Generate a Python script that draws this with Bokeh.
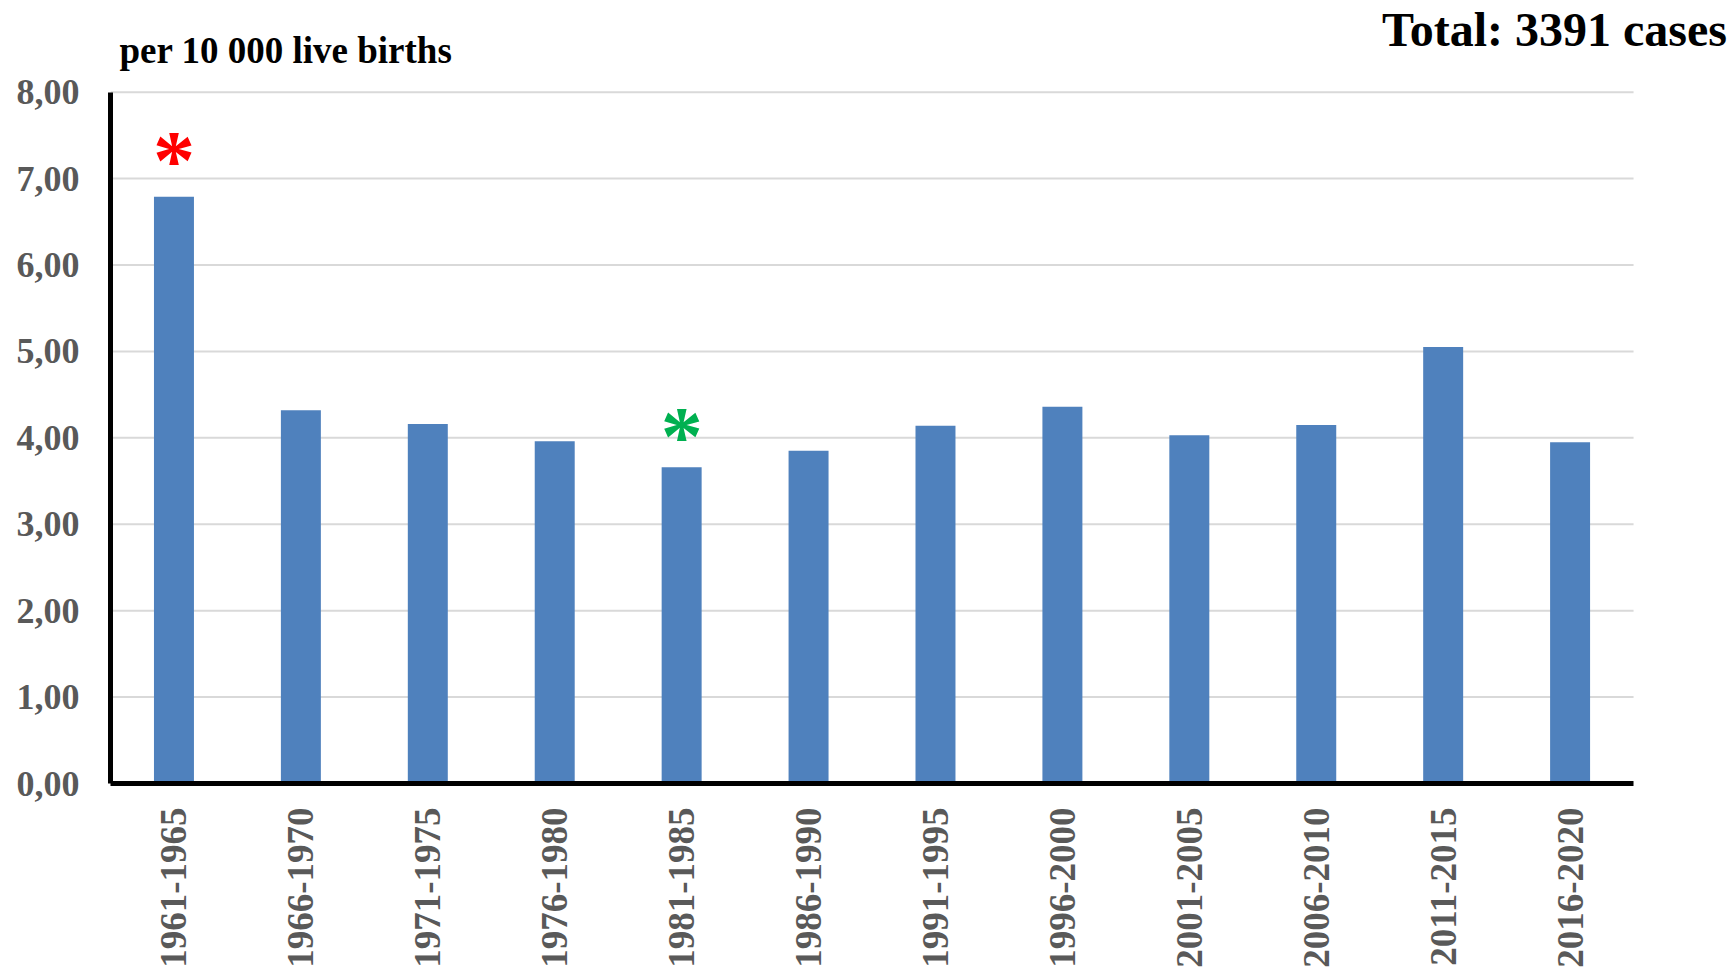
from bokeh.plotting import figure
from bokeh.models import Range1d, FixedTicker
from bokeh.core.properties import value
from bokeh.embed import file_html
from bokeh.resources import INLINE
import math

# Rate per 10 000 live births, by five-year period
periods = ["1961-1965", "1966-1970", "1971-1975", "1976-1980", "1981-1985", "1986-1990",
           "1991-1995", "1996-2000", "2001-2005", "2006-2010", "2011-2015", "2016-2020"]
rates = [6.79, 4.32, 4.16, 3.96, 3.66, 3.85, 4.14, 4.36, 4.03, 4.15, 5.05, 3.95]

y_ticks = [0, 1, 2, 3, 4, 5, 6, 7, 8]
y_tick_labels = ["0,00", "1,00", "2,00", "3,00", "4,00", "5,00", "6,00", "7,00", "8,00"]

# Periods flagged with an asterisk, and the asterisk colours
flagged_periods = ["1961-1965", "1981-1985"]
flag_colors = ["#FF0000", "#00B050"]
flag_gaps = [0.42, 0.35]   # vertical gap between bar top and asterisk baseline

unit_label = "per 10 000 live births"
total_label = "Total: 3391 cases"

SERIF = "Liberation Serif"

n = len(periods)
centers = [i + 0.5 for i in range(n)]   # one unit per period on the x scale
y_max = y_ticks[-1]

# The frame reaches the top and right edges so the header texts sit inside it;
# the axis lines are bounded to the data area.
p = figure(
    width=1729, height=970,
    x_range=Range1d(0, 12.756),
    y_range=Range1d(0, 9.061),
    output_backend="svg", toolbar_location=None,
    min_border_left=110, min_border_right=0,
    min_border_top=0, min_border_bottom=187,
)
p.outline_line_color = None
p.background_fill_color = "white"
p.border_fill_color = "white"
p.xgrid.grid_line_color = None
p.ygrid.grid_line_color = None

# Horizontal gridlines across the data area only
p.segment(x0=[0] * len(y_ticks), x1=[n] * len(y_ticks), y0=y_ticks, y1=y_ticks,
          line_color="#D9D9D9", line_width=2)

p.vbar(x=centers, top=rates, width=0.315, fill_color="#4F81BD", line_color=None)

# Asterisks just above the flagged bars
flag_x = [centers[periods.index(f)] for f in flagged_periods]
flag_rates = [rates[periods.index(f)] for f in flagged_periods]
p.text(x=flag_x, y=[r + g for r, g in zip(flag_rates, flag_gaps)],
       text=["*"] * len(flagged_periods),
       text_color=flag_colors, text_font=value(SERIF), text_font_style="bold",
       text_font_size="84px", text_align="center", text_baseline="alphabetic")

# Header texts
p.text(x=[0.071], y=[8.485], text=[unit_label], text_color="black",
       text_font=value(SERIF), text_font_style="bold", text_font_size="37px",
       text_align="left", text_baseline="alphabetic")
p.text(x=[10.019], y=[8.72], text=[total_label], text_color="black",
       text_font=value(SERIF), text_font_style="bold", text_font_size="48px",
       text_align="left", text_baseline="alphabetic")

# Axes
for ax in (p.xaxis[0], p.yaxis[0]):
    ax.axis_line_color = "black"
    ax.axis_line_width = 5
    ax.major_tick_line_color = None
    ax.minor_tick_line_color = None
    ax.major_tick_out = 0
    ax.major_tick_in = 0
    ax.major_label_text_font = SERIF
    ax.major_label_text_font_style = "bold"
    ax.major_label_text_color = "#595959"

p.yaxis.bounds = (0, y_max)
p.yaxis.ticker = FixedTicker(ticks=y_ticks)
p.yaxis.major_label_overrides = {t: s for t, s in zip(y_ticks, y_tick_labels)}
p.yaxis.major_label_text_font_size = "36px"
p.yaxis.major_label_standoff = 31

p.xaxis.bounds = (0, n)
p.xaxis.ticker = FixedTicker(ticks=centers)
p.xaxis.major_label_overrides = {c: s for c, s in zip(centers, periods)}
p.xaxis.major_label_text_font_size = "37px"
p.xaxis.major_label_orientation = math.pi / 2
p.xaxis.major_label_standoff = 24

with open("out.html", "w") as f:
    f.write(file_html(p, INLINE))
